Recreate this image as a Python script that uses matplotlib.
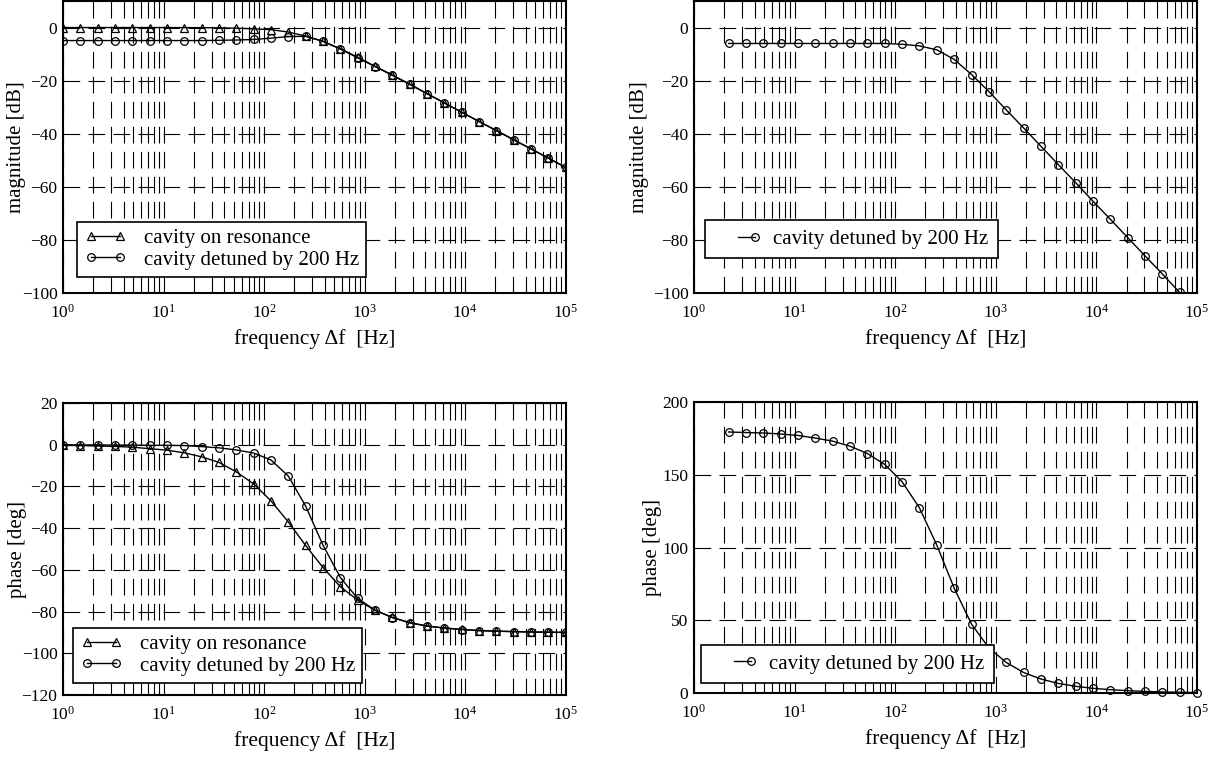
import numpy as np
import matplotlib
matplotlib.use("Agg")
import matplotlib.pyplot as plt
from matplotlib.lines import Line2D
from matplotlib.legend_handler import HandlerBase

# Frequency sample points [Hz] (six per decade, 1 Hz .. 100 kHz)
freq = [1.0, 1.49, 2.21, 3.29, 4.89, 7.28, 10.8, 16.1, 23.9, 35.6,
        52.9, 78.8, 117, 174, 259, 386, 574, 853, 1269, 1887,
        2807, 4175, 6210, 9237, 13738, 20434, 30392, 45204, 67234, 100000]

# Cavity transfer function: magnitude [dB]
mag_resonance = [0.0, 0.0, 0.0, 0.0, 0.0, 0.0, -0.01, -0.02, -0.05, -0.11,
                 -0.24, -0.5, -0.8, -1.7, -3.2, -5.2, -8.0, -11.2, -14.6, -17.9,
                 -21.3, -24.9, -28.4, -31.9, -35.4, -38.8, -42.3, -45.7, -49.2, -52.7]
mag_detuned = [-4.9, -4.9, -4.9, -4.9, -4.9, -4.9, -4.9, -4.9, -4.9, -4.8,
               -4.7, -4.5, -4.0, -3.4, -3.3, -5.2, -8.1, -11.4, -14.7, -18.0,
               -21.4, -24.9, -28.4, -31.9, -35.4, -38.8, -42.3, -45.7, -49.2, -52.7]

# Cavity transfer function: phase [deg]
phase_resonance = [-0.3, -0.4, -0.6, -0.8, -1.2, -1.9, -2.6, -3.9, -5.8, -8.5,
                   -13.0, -18.8, -26.9, -37.0, -48.3, -58.9, -68.1, -74.5, -79.4, -82.8,
                   -85.3, -86.9, -87.9, -88.5, -89.1, -89.4, -89.6, -89.8, -89.9, -90.0]
phase_detuned = [0.0, -0.1, -0.1, -0.2, -0.2, -0.3, -0.3, -0.4, -0.9, -1.5,
                 -2.5, -4.0, -7.3, -15.0, -29.4, -48.2, -63.7, -73.7, -79.3, -82.9,
                 -85.4, -87.0, -87.9, -88.6, -89.1, -89.4, -89.6, -89.8, -89.9, -90.0]

# Closed-loop response with detuned cavity (starts at the third sample point)
freq_loop_mag = freq[2:29]
mag_loop = [-6.0, -6.0, -6.0, -6.0, -6.0, -6.0, -6.0, -6.0, -6.0, -6.0,
            -6.3, -6.9, -8.4, -12.0, -17.7, -24.1, -31.0, -37.8, -44.7, -51.6,
            -58.4, -65.4, -72.2, -79.1, -86.0, -92.8, -99.8]
freq_loop_phase = freq[2:30]
phase_loop = [179.4, 179.0, 178.7, 178.0, 177.0, 175.2, 173.1, 169.6, 164.6, 157.1,
              145.2, 127.3, 101.7, 72.0, 47.3, 31.0, 21.0, 14.1, 9.6, 6.6,
              4.6, 3.2, 2.3, 1.6, 1.1, 0.7, 0.5, 0.3]

label_res = "cavity on resonance"
label_det = "cavity detuned by 200 Hz"
xlabel = "frequency \u0394f  [Hz]"

plt.rcParams["font.family"] = ["Liberation Serif", "DejaVu Serif"]
plt.rcParams["mathtext.fontset"] = "stix"
plt.rcParams["lines.scale_dashes"] = False
plt.rcParams["axes.linewidth"] = 1.5

fig = plt.figure(figsize=(12.22, 7.57), dpi=100)
W, H = 1222.0, 757.0


def add_axes(left, right, top, bottom):
    return fig.add_axes([left / W, 1 - bottom / H, (right - left) / W, (bottom - top) / H])


ax_tl = add_axes(63, 565.7, 1.0, 293)
ax_tr = add_axes(694, 1197, 1.0, 293)
ax_bl = add_axes(63, 565.7, 403, 695)
ax_br = add_axes(694, 1197, 402, 693)

line_kw = dict(color="black", lw=1.0, markersize=5.5, markerfacecolor="none",
               markeredgecolor="black", markeredgewidth=0.9)
grid_kw = dict(color="black", lw=0.8, linestyle=(0, (12, 6)))


def style(ax, ylim, yticks, ylabel, ylabel_x):
    ax.set_xscale("log")
    ax.set_xlim(1, 1e5)
    ax.set_ylim(*ylim)
    ax.set_yticks(yticks)
    ax.set_xticks([1, 10, 100, 1e3, 1e4, 1e5])
    ax.grid(True, which="major", axis="both", **grid_kw)
    ax.grid(True, which="minor", axis="x", **grid_kw)
    ax.tick_params(which="both", direction="in", labelsize=12.5, length=0)
    ax.tick_params(axis="x", pad=8)
    ax.tick_params(axis="y", pad=4)
    ax.set_xlabel(xlabel, fontsize=15.5, labelpad=5)
    ax.set_ylabel(ylabel, fontsize=15)
    ax.yaxis.set_label_coords(ylabel_x, 0.5)
    for s in ax.spines.values():
        s.set_linewidth(1.5)
        s.set_zorder(5)


class EndMarkerHandler(HandlerBase):
    """Short line segment ending in a single marker."""

    def create_artists(self, legend, orig_handle, xdescent, ydescent,
                       width, height, fontsize, trans):
        y = height / 2.0 - ydescent
        x1 = width - xdescent
        x0 = x1 - 0.42 * width
        seg = Line2D([x0, x1], [y, y], color="black", lw=1.0)
        mk = Line2D([x1], [y], marker=orig_handle.get_marker(), linestyle="none",
                    markersize=orig_handle.get_markersize(), markerfacecolor="none",
                    markeredgecolor="black", markeredgewidth=0.9)
        seg.set_transform(trans)
        mk.set_transform(trans)
        return [seg, mk]


legend_kw = dict(loc="lower left", frameon=True, fancybox=False, fontsize=15,
                 edgecolor="black", framealpha=1.0, borderaxespad=0.0)

# Top left: cavity magnitude
ax_tl.plot(freq, mag_resonance, marker="^", label=label_res, **line_kw)
ax_tl.plot(freq, mag_detuned, marker="o", label=label_det, **line_kw)
style(ax_tl, (-100, 10), [-100, -80, -60, -40, -20, 0], "magnitude [dB]", -0.0736)
lg = ax_tl.legend(bbox_to_anchor=(0.028, 0.055), handlelength=2.0, numpoints=2,
                  handletextpad=0.85, borderpad=0.35, labelspacing=0.08, **legend_kw)
lg.get_frame().set_linewidth(1.2)
lg.set_zorder(6)

# Top right: loop magnitude
ax_tr.plot(freq_loop_mag, mag_loop, marker="o", **line_kw)
style(ax_tr, (-100, 10), [-100, -80, -60, -40, -20, 0], "magnitude [dB]", -0.0895)
proxy = Line2D([], [], marker="o", markersize=5.5, color="black")
lg = ax_tr.legend([proxy], [label_det], bbox_to_anchor=(0.022, 0.119),
                  handler_map={Line2D: EndMarkerHandler()}, handlelength=1.93,
                  handletextpad=0.9, borderpad=0.45, **legend_kw)
lg.get_frame().set_linewidth(1.2)
lg.set_zorder(6)

# Bottom left: cavity phase
ax_bl.plot(freq, phase_resonance, marker="^", label=label_res, **line_kw)
ax_bl.plot(freq, phase_detuned, marker="o", label=label_det, **line_kw)
style(ax_bl, (-120, 20), [-120, -100, -80, -60, -40, -20, 0, 20], "phase [deg]", -0.0716)
lg = ax_bl.legend(bbox_to_anchor=(0.02, 0.041), handlelength=2.0, numpoints=2,
                  handletextpad=0.85, borderpad=0.35, labelspacing=0.08, **legend_kw)
lg.get_frame().set_linewidth(1.2)
lg.set_zorder(6)

# Bottom right: loop phase
ax_br.plot(freq_loop_phase, phase_loop, marker="o", clip_on=False, **line_kw)
style(ax_br, (0, 200), [0, 50, 100, 150, 200], "phase [deg]", -0.0636)
lg = ax_br.legend([proxy], [label_det], bbox_to_anchor=(0.014, 0.034),
                  handler_map={Line2D: EndMarkerHandler()}, handlelength=1.93,
                  handletextpad=0.9, borderpad=0.45, **legend_kw)
lg.get_frame().set_linewidth(1.2)
lg.set_zorder(6)

fig.savefig("out.png", dpi=100)
